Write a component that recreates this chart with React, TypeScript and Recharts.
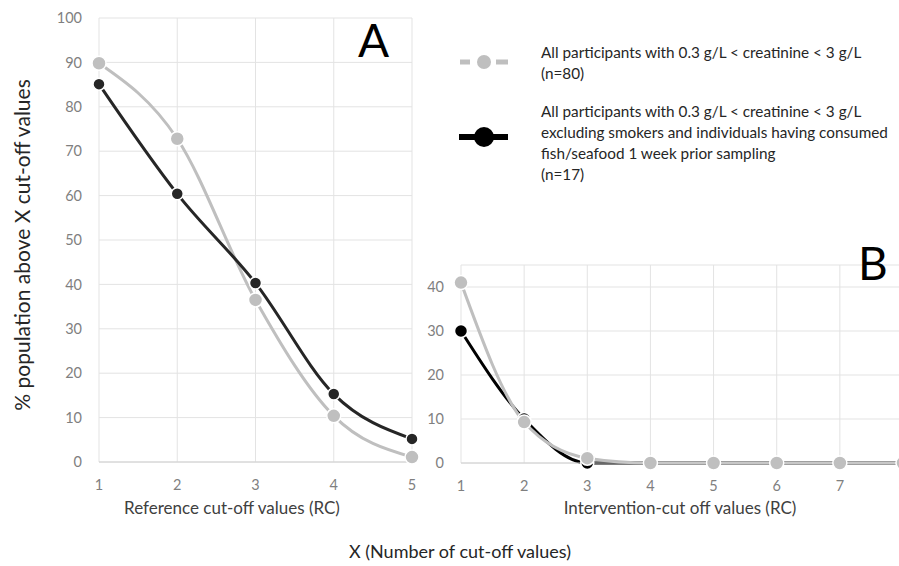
import React from 'react';
import { LineChart, Line, XAxis, YAxis, CartesianGrid } from 'recharts';

const refCutoffs = [1, 2, 3, 4, 5];
const refAll = [89.8, 72.8, 36.5, 10.4, 1.1];
const refExcluding = [85.1, 60.4, 40.3, 15.3, 5.2];
const refYTicks = [0, 10, 20, 30, 40, 50, 60, 70, 80, 90, 100];

const intCutoffs = [1, 2, 3, 4, 5, 6, 7, 8];
const intAll = [41, 9.3, 1.1, 0, 0, 0, 0, 0];
const intExcluding = [30, 10, 0, 0, 0, 0, 0, 0];
const intYTicks = [0, 10, 20, 30, 40];

const legendAll = ['All participants with 0.3 g/L < creatinine < 3 g/L', '(n=80)'];
const legendExcluding = [
  'All participants with 0.3 g/L < creatinine < 3 g/L',
  'excluding smokers and individuals having consumed',
  'fish/seafood 1 week prior sampling',
  '(n=17)',
];

const GREY = '#bfbfbf';
const DARK = '#262626';
const FONT = 'Lato, "Open Sans", sans-serif';

const refData = refCutoffs.map((x, i) => ({ x, all: refAll[i], excl: refExcluding[i] }));
const intData = intCutoffs.map((x, i) => ({ x, all: intAll[i], excl: intExcluding[i] }));

const tickStyle = { fill: '#7f7f7f', fontSize: 14.5, fontFamily: FONT };

const dot = (color: string, r = 6.5) => ({ r, fill: color, stroke: '#fff', strokeWidth: 1.5 });

const App: React.FC = () => {
  return (
    <div
      style={{
        position: 'absolute',
        left: 0,
        top: 0,
        width: 899,
        height: 566,
        overflow: 'hidden',
        background: '#fff',
        fontFamily: FONT,
      }}
    >
      {/* chart A */}
      <div style={{ position: 'absolute', left: 0, top: 0 }}>
        <LineChart width={420} height={520} data={refData} margin={{ top: 18, right: 8, left: 0, bottom: 28 }}>
          <CartesianGrid stroke="#e3e3e3" strokeWidth={1} />
          <XAxis
            dataKey="x"
            type="number"
            domain={[1, 5]}
            ticks={refCutoffs}
            tickLine={false}
            axisLine={{ stroke: '#d0d0d0' }}
            tick={tickStyle}
            tickMargin={12}
            height={30}
          />
          <YAxis
            domain={[0, 100]}
            ticks={refYTicks}
            tickLine={false}
            axisLine={false}
            tick={tickStyle}
            tickMargin={11}
            width={99}
          />
          <Line type="monotone" dataKey="all" stroke={GREY} strokeWidth={3} dot={dot(GREY, 7)} isAnimationActive={false} />
          <Line type="monotone" dataKey="excl" stroke={DARK} strokeWidth={3} dot={dot(DARK, 6)} isAnimationActive={false} />
        </LineChart>
      </div>

      {/* chart B */}
      <div style={{ position: 'absolute', left: 360, top: 245 }}>
        <LineChart width={551} height={276} data={intData} margin={{ top: 20, right: 8, left: 0, bottom: 28 }}>
          <CartesianGrid stroke="#e3e3e3" strokeWidth={1} />
          <XAxis
            dataKey="x"
            type="number"
            domain={[1, 8]}
            ticks={intCutoffs}
            tickLine={false}
            axisLine={{ stroke: '#d0d0d0' }}
            tick={tickStyle}
            tickMargin={12}
            height={30}
          />
          <YAxis
            domain={[0, 45]}
            ticks={intYTicks}
            tickLine={false}
            axisLine={false}
            tick={tickStyle}
            tickMargin={11}
            width={101}
          />
          <Line type="monotone" dataKey="excl" stroke="#000" strokeWidth={3} dot={dot('#000', 6.5)} isAnimationActive={false} />
          <Line type="monotone" dataKey="all" stroke={GREY} strokeWidth={3} dot={dot(GREY, 7)} isAnimationActive={false} />
        </LineChart>
      </div>

      {/* panel letters */}
      <div style={{ position: 'absolute', left: 358, top: 14, fontSize: 46, color: '#000', lineHeight: '52px' }}>A</div>
      <div style={{ position: 'absolute', left: 858, top: 237, fontSize: 46, color: '#000', lineHeight: '52px' }}>B</div>

      {/* legend */}
      <svg style={{ position: 'absolute', left: 455, top: 50 }} width={60} height={100}>
        <line x1={5} y1={12} x2={15} y2={12} stroke={GREY} strokeWidth={5} />
        <line x1={41} y1={12} x2={53} y2={12} stroke={GREY} strokeWidth={5} />
        <circle cx={29} cy={12} r={7} fill={GREY} />
        <line x1={4} y1={87} x2={53} y2={87} stroke="#000" strokeWidth={6} />
        <circle cx={29} cy={87} r={10} fill="#000" />
      </svg>
      <div style={{ position: 'absolute', left: 541, top: 42, fontSize: 15.3, lineHeight: '21px', color: '#262626' }}>
        {legendAll.map((t) => (
          <div key={t}>{t}</div>
        ))}
      </div>
      <div style={{ position: 'absolute', left: 541, top: 101, fontSize: 15.3, lineHeight: '21px', color: '#262626' }}>
        {legendExcluding.map((t) => (
          <div key={t}>{t}</div>
        ))}
      </div>

      {/* axis titles */}
      <div style={{ position: 'absolute', left: 112, width: 240, top: 497, textAlign: 'center', fontSize: 17, color: '#404040' }}>
        Reference cut-off values (RC)
      </div>
      <div style={{ position: 'absolute', left: 550, width: 260, top: 497, textAlign: 'center', fontSize: 17, color: '#404040' }}>
        Intervention-cut off values (RC)
      </div>
      <div style={{ position: 'absolute', left: 260, width: 400, top: 540, textAlign: 'center', fontSize: 18, color: '#262626' }}>
        X (Number of cut-off values)
      </div>
      <div
        style={{
          position: 'absolute',
          left: 22 - 200,
          top: 245 - 13,
          width: 400,
          textAlign: 'center',
          fontSize: 21,
          lineHeight: '26px',
          color: '#262626',
          transform: 'rotate(-90deg)',
        }}
      >
        % population above X cut-off values
      </div>
    </div>
  );
};

export default App;
